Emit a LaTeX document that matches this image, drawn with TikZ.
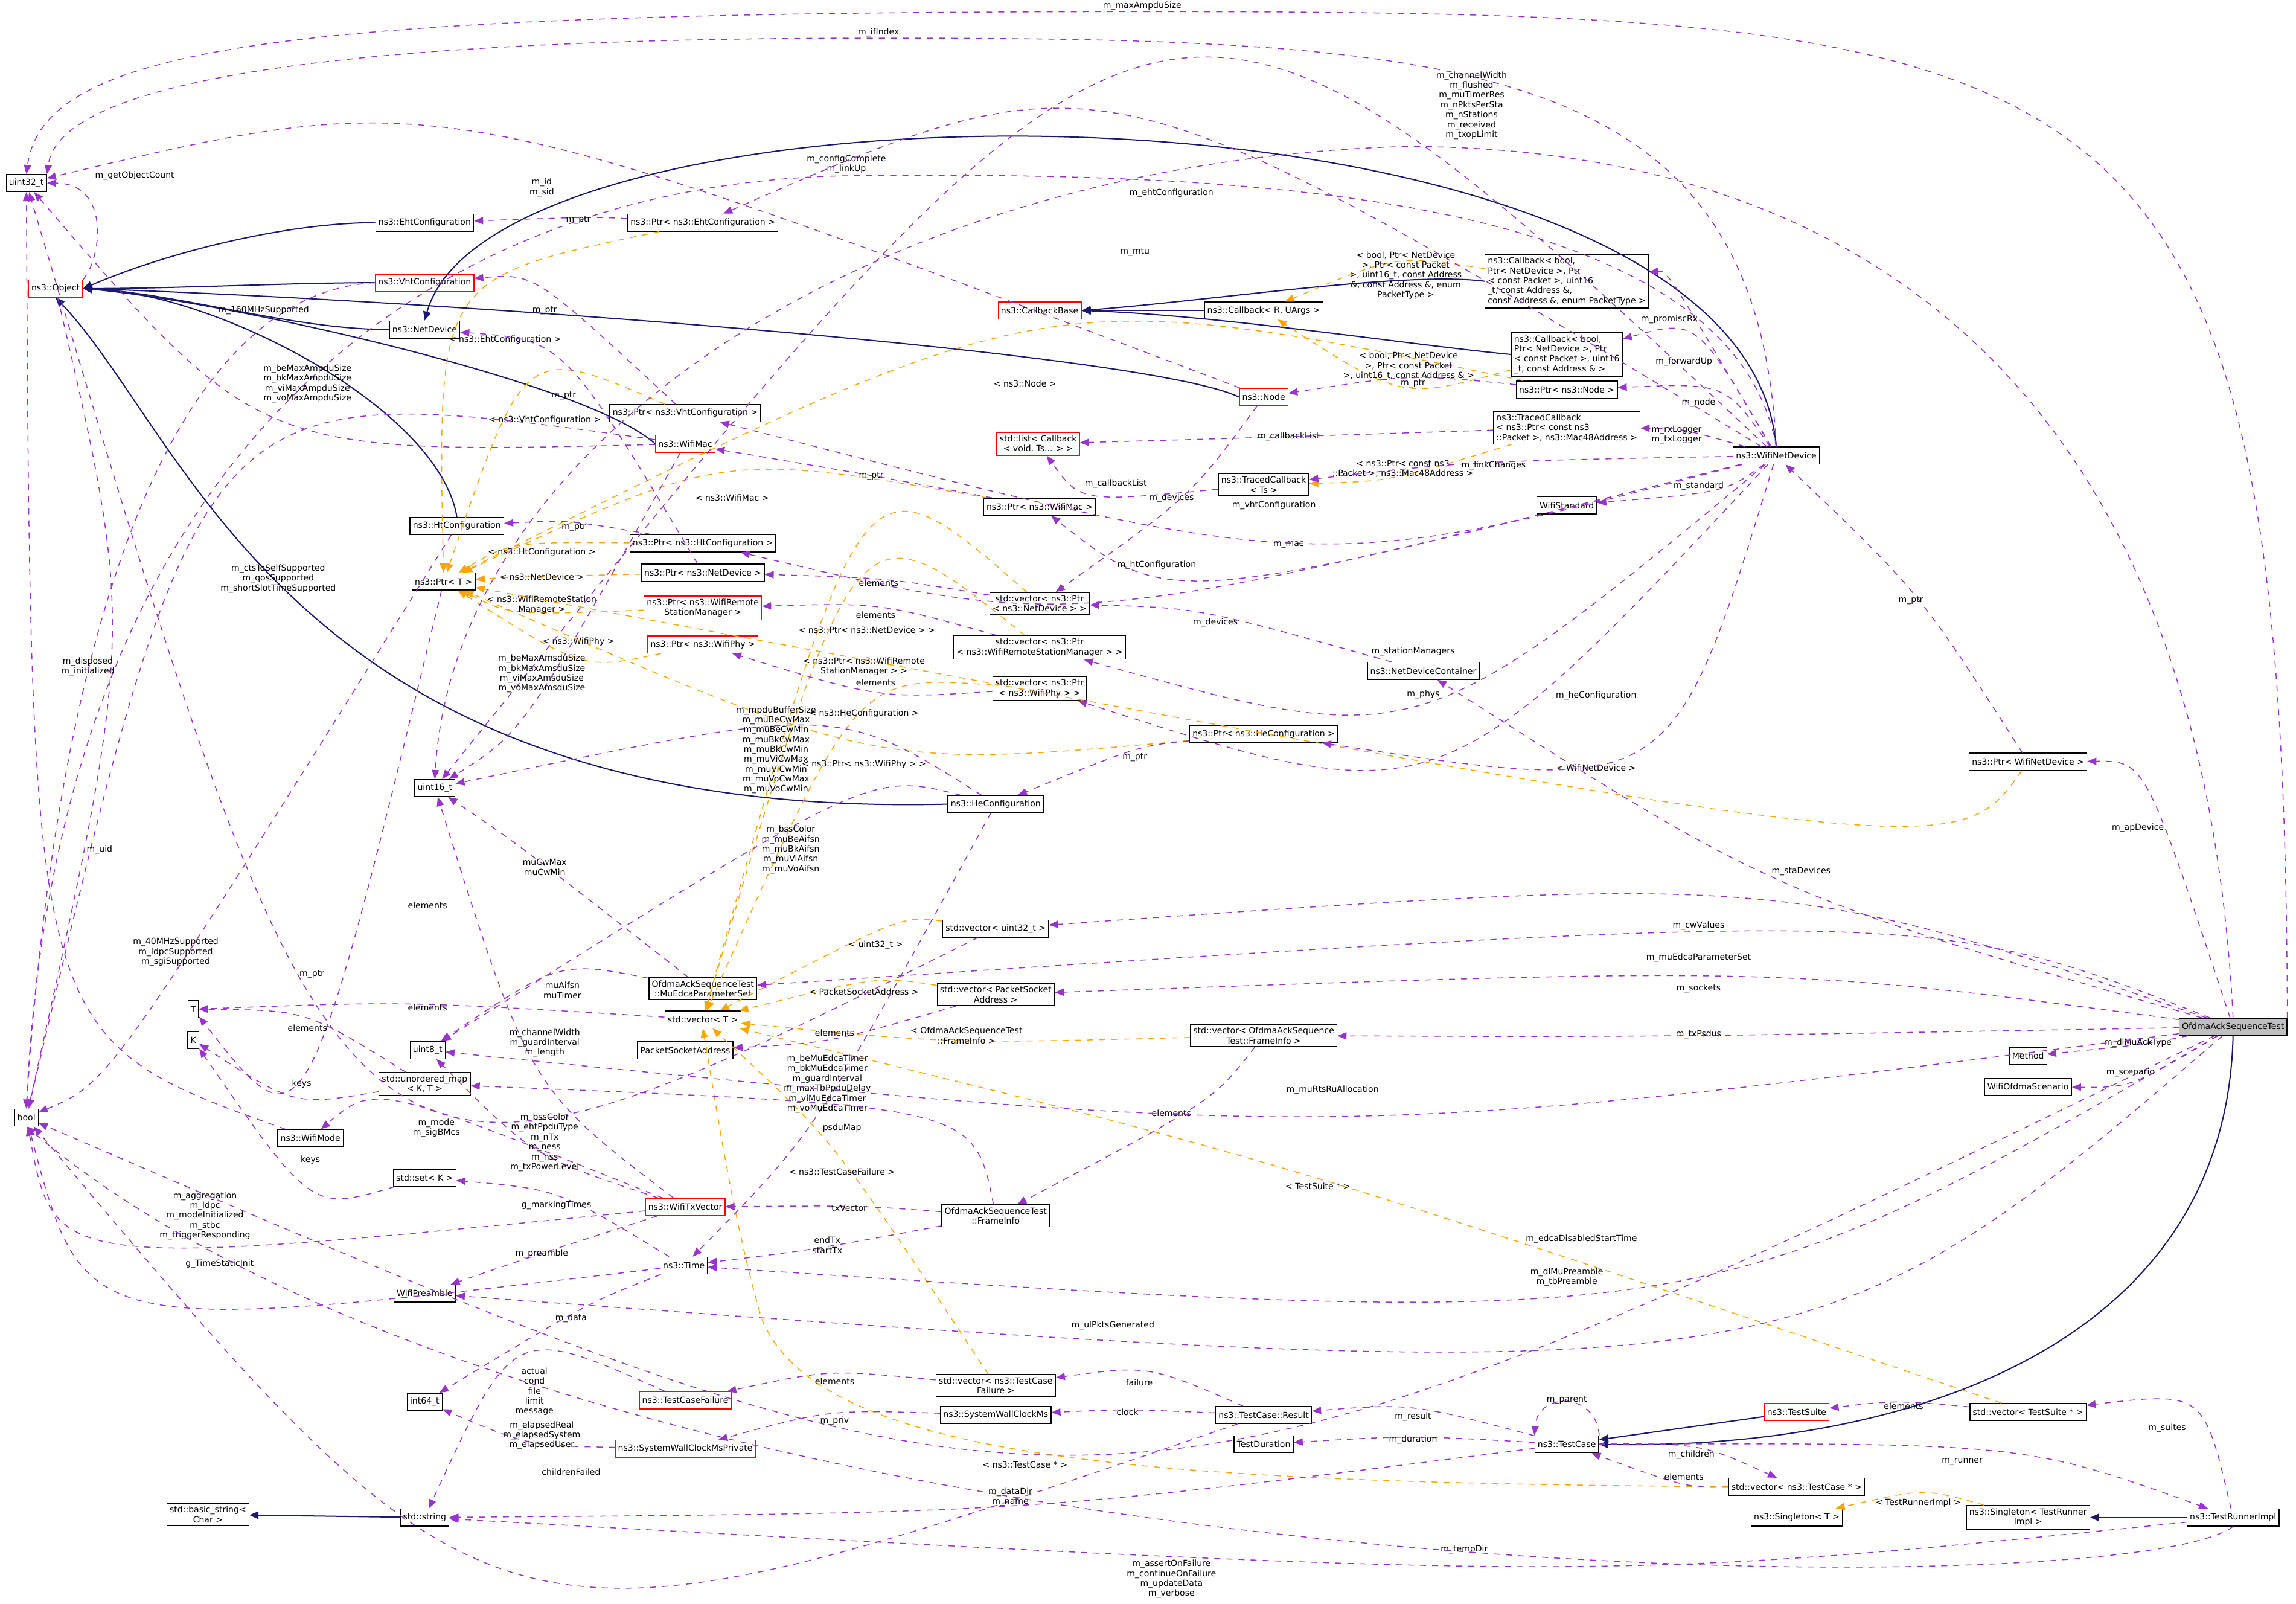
\documentclass[tikz,border=0pt]{standalone}
\usepackage{fontspec}
\newfontfamily\dxfont{DejaVu Sans}
\usepackage{tikz}
\usetikzlibrary{arrows.meta, calc}
\definecolor{usecol}{HTML}{9A32CD}
\definecolor{tplcol}{HTML}{FFA500}
\definecolor{inhcol}{HTML}{191970}
\tikzset{
  cls/.style={draw=black, fill=white, font=\dxfont\fontsize{4.2}{4.9}\selectfont, align=center, inner sep=1.4pt, minimum height=8.5},
  redcls/.style={cls, draw=red},
  maincls/.style={cls, fill=black!25},
  lbl/.style={font=\dxfont\fontsize{4.2}{4.9}\selectfont, align=center, inner sep=0.3pt, text=black},
  use/.style={draw=usecol, dashed, line width=0.45pt, -{Triangle[length=4.5pt,width=3.6pt]}},
  tpl/.style={draw=tplcol, dashed, line width=0.45pt, -{Triangle[length=4.5pt,width=3.6pt]}},
  inh/.style={draw=inhcol, line width=0.6pt, -{Triangle[length=4.5pt,width=3.8pt]}}
}
% curved link through a given label point
\newcommand{\lnk}[5]{%
  \draw[#1] (#2) .. controls ($2*(#4)-0.5*(#2)-0.5*(#3)$) .. (#3) node[lbl] at (#4) {#5};}

\begin{document}
\begin{tikzpicture}[x=0.02551cm, y=-0.02551cm]
  \useasboundingbox[fill=white] (0,0) rectangle (1568,1095);

  % --- left column ---
  \node[cls] (u32) at (18,125) {uint32\_t};
  \node[redcls] (obj) at (38,197) {ns3::Object};
  \node[cls] (bool) at (18,763) {bool};
  \node[cls] (tT) at (132,689) {T};
  \node[cls] (tK) at (132,710) {K};
  \node[cls] (wmode) at (212,777) {ns3::WifiMode};
  \node[cls] (bstr) at (142,1034) {std::basic\_string<\\Char >};

  % --- second column ---
  \node[cls] (ehtc) at (290,152) {ns3::EhtConfiguration};
  \node[redcls] (vhtc) at (290,193) {ns3::VhtConfiguration};
  \node[cls] (netdev) at (290,225) {ns3::NetDevice};
  \node[cls] (htc) at (312,359) {ns3::HtConfiguration};
  \node[cls] (ptrT) at (303,397) {ns3::Ptr< T >};
  \node[cls] (u16) at (297,538) {uint16\_t};
  \node[cls] (u8) at (292,717) {uint8\_t};
  \node[cls] (umap) at (290,740) {std::unordered\_map\\< K, T >};
  \node[cls] (setK) at (290,804) {std::set< K >};
  \node[cls] (wpre) at (290,883) {WifiPreamble};
  \node[cls] (i64) at (290,957) {int64\_t};
  \node[cls] (str) at (290,1036) {std::string};

  % --- third column ---
  \node[cls] (pehtc) at (480,152) {ns3::Ptr< ns3::EhtConfiguration >};
  \node[cls] (pvhtc) at (468,282) {ns3::Ptr< ns3::VhtConfiguration >};
  \node[redcls] (wmac) at (468,303) {ns3::WifiMac};
  \node[cls] (phtc) at (480,371) {ns3::Ptr< ns3::HtConfiguration >};
  \node[cls] (pnd) at (480,391) {ns3::Ptr< ns3::NetDevice >};
  \node[redcls] (pwrsm) at (480,415) {ns3::Ptr< ns3::WifiRemote\\StationManager >};
  \node[redcls] (pphy) at (480,440) {ns3::Ptr< ns3::WifiPhy >};
  \node[cls] (muset) at (480,675) {OfdmaAckSequenceTest\\::MuEdcaParameterSet};
  \node[cls] (vecT) at (480,696) {std::vector< T >};
  \node[cls] (psa) at (468,717) {PacketSocketAddress};
  \node[redcls] (txv) at (468,824) {ns3::WifiTxVector};
  \node[cls] (time) at (467,864) {ns3::Time};
  \node[redcls] (tcf) at (468,956) {ns3::TestCaseFailure};
  \node[redcls] (swcp) at (468,989) {ns3::SystemWallClockMsPrivate};

  % --- fourth column ---
  \node[redcls] (cbb) at (710,212) {ns3::CallbackBase};
  \node[redcls] (cblist) at (709,303) {std::list< Callback\\< void, Ts... > >};
  \node[cls] (pwmac) at (710,346) {ns3::Ptr< ns3::WifiMac >};
  \node[cls] (vpnd) at (710,412) {std::vector< ns3::Ptr\\< ns3::NetDevice > >};
  \node[cls] (vpwrsm) at (710,442) {std::vector< ns3::Ptr\\< ns3::WifiRemoteStationManager > >};
  \node[cls] (vpphy) at (710,470) {std::vector< ns3::Ptr\\< ns3::WifiPhy > >};
  \node[cls] (hec) at (680,549) {ns3::HeConfiguration};
  \node[cls] (vu32) at (680,634) {std::vector< uint32\_t >};
  \node[cls] (vpsa) at (680,679) {std::vector< PacketSocket\\Address >};
  \node[cls] (finfo) at (680,830) {OfdmaAckSequenceTest\\::FrameInfo};
  \node[cls] (vtcf) at (680,946) {std::vector< ns3::TestCase\\Failure >};
  \node[cls] (swc) at (680,966) {ns3::SystemWallClockMs};

  % --- fifth column ---
  \node[cls] (cbR) at (863,212) {ns3::Callback< R, UArgs >};
  \node[redcls] (node) at (863,271) {ns3::Node};
  \node[cls] (tcTs) at (863,331) {ns3::TracedCallback\\< Ts >};
  \node[cls] (ndc) at (972,458) {ns3::NetDeviceContainer};
  \node[cls] (phec) at (863,501) {ns3::Ptr< ns3::HeConfiguration >};
  \node[cls] (vfinfo) at (863,707) {std::vector< OfdmaAckSequence\\Test::FrameInfo >};
  \node[cls] (tres) at (863,966) {ns3::TestCase::Result};
  \node[cls] (tdur) at (863,986) {TestDuration};

  % --- sixth column ---
  \node[cls, align=left] (cb1) at (1070,192) {ns3::Callback< bool,\\ Ptr< NetDevice >, Ptr\\< const Packet >, uint16\\\_t, const Address \&,\\ const Address \&, enum PacketType >};
  \node[cls, align=left] (cb2) at (1070,242) {ns3::Callback< bool,\\ Ptr< NetDevice >, Ptr\\< const Packet >, uint16\\\_t, const Address \& >};
  \node[cls] (pnode) at (1070,266) {ns3::Ptr< ns3::Node >};
  \node[cls, align=left] (tcpk) at (1070,292) {ns3::TracedCallback\\< ns3::Ptr< const ns3\\::Packet >, ns3::Mac48Address >};
  \node[cls] (wstd) at (1070,345) {WifiStandard};
  \node[cls] (tc) at (1070,986) {ns3::TestCase};
  \node[cls] (wnd) at (1213,311) {ns3::WifiNetDevice};
  \node[redcls] (tsuite) at (1227,964) {ns3::TestSuite};
  \node[cls] (vptc) at (1227,1015) {std::vector< ns3::TestCase * >};
  \node[cls] (sglT) at (1227,1036) {ns3::Singleton< T >};

  % --- right columns ---
  \node[cls] (pwnd) at (1385,520) {ns3::Ptr< WifiNetDevice >};
  \node[cls] (method) at (1385,721) {Method};
  \node[cls] (scen) at (1385,742) {WifiOfdmaScenario};
  \node[cls] (vts) at (1385,964) {std::vector< TestSuite * >};
  \node[cls] (sglR) at (1385,1036) {ns3::Singleton< TestRunner\\Impl >};
  \node[maincls] (oat) at (1525,701) {OfdmaAckSequenceTest};
  \node[cls] (tri) at (1525,1036) {ns3::TestRunnerImpl};

  % --- inheritance ---
  \draw[inh] (ehtc.west) .. controls (200,152) and (120,170) .. (obj.east);
  \draw[inh] (vhtc.west) .. controls (200,193) and (120,197) .. (obj.east);
  \draw[inh] (netdev.west) .. controls (200,225) and (120,200) .. (obj.east);
  \draw[inh] (htc.north) .. controls (300,280) and (150,200) .. (obj.east);
  \draw[inh] (wmac.west) .. controls (400,260) and (150,205) .. (obj.east);
  \draw[inh] (node.west) .. controls (780,240) and (300,205) .. (obj.east);
  \draw[inh] (hec.west) .. controls (200,560) and (130,300) .. (obj.south);
  \draw[inh] (wnd.north) .. controls (1190,40) and (340,40) .. (netdev.north);
  \draw[inh] (cbR) -- (cbb);
  \draw[inh] (cb1.west) .. controls (960,185) and (830,205) .. (cbb.east);
  \draw[inh] (cb2.west) .. controls (960,235) and (830,215) .. (cbb.east);
  \draw[inh] (oat.south) .. controls (1520,920) and (1300,990) .. (tc.east);
  \draw[inh] (tsuite) -- (tc);
  \draw[inh] (str) -- (bstr);
  \draw[inh] (tri) -- (sglR);

  % --- template instances ---
  \lnk{tpl}{pehtc}{ptrT}{345,232}{< ns3::EhtConfiguration >}
  \lnk{tpl}{pnode}{ptrT}{700,262}{< ns3::Node >}
  \lnk{tpl}{pvhtc}{ptrT}{372,287}{< ns3::VhtConfiguration >}
  \lnk{tpl}{pwmac}{ptrT}{500,340}{< ns3::WifiMac >}
  \lnk{tpl}{phtc}{ptrT}{370,377}{< ns3::HtConfiguration >}
  \lnk{tpl}{pnd}{ptrT}{370,394}{< ns3::NetDevice >}
  \lnk{tpl}{pwrsm}{ptrT}{370,413}{< ns3::WifiRemoteStation\\Manager >}
  \lnk{tpl}{pphy}{ptrT}{395,438}{< ns3::WifiPhy >}
  \lnk{tpl}{phec}{ptrT}{590,487}{< ns3::HeConfiguration >}
  \lnk{tpl}{pwnd}{ptrT}{1090,524}{< WifiNetDevice >}
  \lnk{tpl}{cb1}{cbR}{960,188}{< bool, Ptr< NetDevice\\>, Ptr< const Packet\\>, uint16\_t, const Address\\\&, const Address \&, enum\\ PacketType >}
  \lnk{tpl}{cb2}{cbR}{962,250}{< bool, Ptr< NetDevice\\>, Ptr< const Packet\\>, uint16\_t, const Address \& >}
  \lnk{tpl}{tcpk}{tcTs}{958,320}{< ns3::Ptr< const ns3\\::Packet >, ns3::Mac48Address >}
  \lnk{tpl}{vpnd}{vecT}{592,430}{< ns3::Ptr< ns3::NetDevice > >}
  \lnk{tpl}{vpwrsm}{vecT}{590,455}{< ns3::Ptr< ns3::WifiRemote\\StationManager > >}
  \lnk{tpl}{vpphy}{vecT}{590,522}{< ns3::Ptr< ns3::WifiPhy > >}
  \lnk{tpl}{vu32}{vecT}{598,645}{< uint32\_t >}
  \lnk{tpl}{vpsa}{vecT}{590,677}{< PacketSocketAddress >}
  \lnk{tpl}{vfinfo}{vecT}{660,707}{< OfdmaAckSequenceTest\\::FrameInfo >}
  \lnk{tpl}{vtcf}{vecT}{575,800}{< ns3::TestCaseFailure >}
  \lnk{tpl}{vts}{vecT}{900,810}{< TestSuite * >}
  \draw[tpl] (vptc.west) .. controls (800,1012) and (560,1000) .. (520,900)
    .. controls (500,830) and (490,760) .. (vecT.south) node[lbl] at (700,1000) {< ns3::TestCase * >};
  \lnk{tpl}{sglR}{sglT}{1310,1026}{< TestRunnerImpl >}

  % --- members: long top routes ---
  \draw[use] (oat.north east) .. controls (1560,30) and (1450,8) .. (780,8)
    .. controls (200,8) and (30,30) .. (u32.north) node[lbl] at (780,4) {m\_maxAmpduSize};
  \draw[use] (wnd.north) .. controls (1200,40) and (1000,26) .. (600,26)
    .. controls (200,26) and (40,60) .. (u32.north east) node[lbl] at (600,22) {m\_ifIndex};
  \draw[use] (oat.north) .. controls (1500,200) and (1200,100) .. (960,100)
    .. controls (600,110) and (310,300) .. (u16.north) node[lbl] at (1005,72) {m\_channelWidth\\m\_flushed\\m\_muTimerRes\\m\_nPktsPerSta\\m\_nStations\\m\_received\\m\_txopLimit};
  \draw[use] (wnd.north) .. controls (1180,120) and (800,118) .. (578,120)
    .. controls (300,125) and (40,300) .. (bool.north) node[lbl] at (578,112) {m\_configComplete\\m\_linkUp};
  \lnk{use}{node}{u32}{370,128}{m\_id\\m\_sid}
  \draw[use] (obj.north east) .. controls (70,175) and (75,125) .. (u32.east) node[lbl] at (92,120) {m\_getObjectCount};

  % --- members of WifiNetDevice ---
  \lnk{use}{wnd}{pehtc}{800,132}{m\_ehtConfiguration}
  \lnk{use}{wnd}{u16}{775,172}{m\_mtu}
  \lnk{use}{wnd}{cb1}{1140,218}{m\_promiscRx}
  \lnk{use}{wnd}{cb2}{1150,247}{m\_forwardUp}
  \lnk{use}{wnd}{pnode}{1160,275}{m\_node}
  \lnk{use}{wnd}{tcpk}{1145,297}{m\_rxLogger\\m\_txLogger}
  \lnk{use}{wnd}{tcTs}{1020,318}{m\_linkChanges}
  \lnk{use}{wnd}{wstd}{1160,332}{m\_standard}
  \lnk{use}{wnd}{pvhtc}{870,345}{m\_vhtConfiguration}
  \lnk{use}{wnd}{pwmac}{880,372}{m\_mac}
  \lnk{use}{wnd}{phtc}{790,386}{m\_htConfiguration}
  \lnk{use}{wnd}{vpwrsm}{965,445}{m\_stationManagers}
  \lnk{use}{wnd}{vpphy}{972,474}{m\_phys}
  \lnk{use}{wnd}{phec}{1090,475}{m\_heConfiguration}

  % --- Ptr targets ---
  \lnk{use}{pehtc}{ehtc}{395,150}{m\_ptr}
  \lnk{use}{pvhtc}{vhtc}{372,212}{m\_ptr}
  \lnk{use}{pwmac}{wmac}{595,325}{m\_ptr}
  \lnk{use}{phtc}{htc}{392,360}{m\_ptr}
  \lnk{use}{pnd}{netdev}{385,270}{m\_ptr}
  \lnk{use}{pnode}{node}{965,262}{m\_ptr}
  \lnk{use}{phec}{hec}{775,517}{m\_ptr}
  \lnk{use}{pwnd}{wnd}{1305,410}{m\_ptr}
  \lnk{use}{ptrT}{tT}{213,665}{m\_ptr}

  % --- other members ---
  \lnk{use}{obj}{bool}{60,455}{m\_disposed\\m\_initialized}
  \draw[use] (vhtc.west) .. controls (120,200) and (40,420) .. (bool.north) node[lbl] at (180,212) {m\_160MHzSupported};
  \lnk{use}{htc}{bool}{120,650}{m\_40MHzSupported\\m\_ldpcSupported\\m\_sgiSupported}
  \lnk{use}{wmac}{u32}{210,262}{m\_beMaxAmpduSize\\m\_bkMaxAmpduSize\\m\_viMaxAmpduSize\\m\_voMaxAmpduSize}
  \lnk{use}{wmac}{u16}{370,460}{m\_beMaxAmsduSize\\m\_bkMaxAmsduSize\\m\_viMaxAmsduSize\\m\_voMaxAmsduSize}
  \lnk{use}{wmac}{bool}{190,395}{m\_ctsToSelfSupported\\m\_qosSupported\\m\_shortSlotTimeSupported}
  \lnk{use}{node}{vpnd}{800,340}{m\_devices}
  \lnk{use}{tcTs}{cblist}{762,330}{m\_callbackList}
  \lnk{use}{tcpk}{cblist}{880,298}{m\_callbackList}
  \lnk{use}{vpnd}{pnd}{600,398}{elements}
  \lnk{use}{vpwrsm}{pwrsm}{598,420}{elements}
  \lnk{use}{vpphy}{pphy}{598,466}{elements}
  \lnk{use}{ndc}{vpnd}{830,425}{m\_devices}
  \lnk{use}{hec}{u16}{530,512}{m\_mpduBufferSize\\m\_muBeCwMax\\m\_muBeCwMin\\m\_muBkCwMax\\m\_muBkCwMin\\m\_muViCwMax\\m\_muViCwMin\\m\_muVoCwMax\\m\_muVoCwMin}
  \lnk{use}{hec}{u8}{540,580}{m\_bssColor\\m\_muBeAifsn\\m\_muBkAifsn\\m\_muViAifsn\\m\_muVoAifsn}
  \lnk{use}{hec}{time}{565,740}{m\_beMuEdcaTimer\\m\_bkMuEdcaTimer\\m\_guardInterval\\m\_maxTbPpduDelay\\m\_viMuEdcaTimer\\m\_voMuEdcaTimer}
  \lnk{use}{muset}{u16}{372,592}{muCwMax\\muCwMin}
  \lnk{use}{muset}{u8}{384,676}{muAifsn\\muTimer}
  \lnk{use}{vecT}{tT}{292,688}{elements}
  \lnk{use}{vu32}{u32}{292,618}{elements}
  \lnk{use}{umap}{tT}{210,702}{elements}
  \lnk{use}{umap}{tK}{206,740}{keys}
  \lnk{use}{setK}{tK}{212,792}{keys}
  \lnk{use}{wmode}{u32}{68,580}{m\_uid}
  \lnk{use}{txv}{u16}{372,712}{m\_channelWidth\\m\_guardInterval\\m\_length}
  \lnk{use}{txv}{u8}{372,780}{m\_bssColor\\m\_ehtPpduType\\m\_nTx\\m\_ness\\m\_nss\\m\_txPowerLevel}
  \lnk{use}{txv}{wmode}{298,770}{m\_mode\\m\_sigBMcs}
  \lnk{use}{txv}{bool}{140,830}{m\_aggregation\\m\_ldpc\\m\_modeInitialized\\m\_stbc\\m\_triggerResponding}
  \lnk{use}{txv}{wpre}{370,856}{m\_preamble}
  \lnk{use}{time}{setK}{380,823}{g\_markingTimes}
  \lnk{use}{time}{bool}{150,863}{g\_TimeStaticInit}
  \lnk{use}{time}{i64}{390,900}{m\_data}
  \lnk{use}{finfo}{txv}{580,825}{txVector}
  \lnk{use}{finfo}{umap}{575,770}{psduMap}
  \lnk{use}{finfo}{time}{565,850}{endTx\\startTx}
  \lnk{use}{vfinfo}{finfo}{800,760}{elements}
  \lnk{use}{vpsa}{psa}{570,705}{elements}

  % --- members of OfdmaAckSequenceTest ---
  \lnk{use}{oat}{pwnd}{1460,565}{m\_apDevice}
  \lnk{use}{oat}{ndc}{1230,595}{m\_staDevices}
  \lnk{use}{oat}{vu32}{1160,632}{m\_cwValues}
  \lnk{use}{oat}{muset}{1160,654}{m\_muEdcaParameterSet}
  \lnk{use}{oat}{vpsa}{1160,675}{m\_sockets}
  \lnk{use}{oat}{vfinfo}{1160,706}{m\_txPsdus}
  \lnk{use}{oat}{method}{1460,712}{m\_dlMuAckType}
  \lnk{use}{oat}{scen}{1455,732}{m\_scenario}
  \lnk{use}{oat}{u8}{910,744}{m\_muRtsRuAllocation}
  \lnk{use}{oat}{time}{1080,846}{m\_edcaDisabledStartTime}
  \lnk{use}{oat}{wpre}{1070,872}{m\_dlMuPreamble\\m\_tbPreamble}
  \lnk{use}{oat}{bool}{760,905}{m\_ulPktsGenerated}

  % --- test framework ---
  \lnk{use}{tcf}{str}{365,950}{actual\\cond\\file\\limit\\message}
  \lnk{use}{swcp}{i64}{370,980}{m\_elapsedReal\\m\_elapsedSystem\\m\_elapsedUser}
  \lnk{use}{swc}{swcp}{570,970}{m\_priv}
  \lnk{use}{vtcf}{tcf}{570,943}{elements}
  \lnk{use}{tres}{vtcf}{778,944}{failure}
  \lnk{use}{tres}{swc}{770,964}{clock}
  \lnk{use}{tres}{bool}{390,1005}{childrenFailed}
  \lnk{use}{tc}{tres}{965,967}{m\_result}
  \lnk{use}{tc}{tdur}{965,983}{m\_duration}
  \draw[use] (tc.north east) .. controls (1090,950) and (1050,950) .. (tc.north west) node[lbl] at (1070,956) {m\_parent};
  \lnk{use}{tc}{str}{690,1022}{m\_dataDir\\m\_name}
  \lnk{use}{vptc}{tc}{1150,1008}{elements}
  \lnk{use}{tc}{vptc}{1155,993}{m\_children}
  \lnk{use}{tc}{tri}{1340,998}{m\_runner}
  \lnk{use}{vts}{tsuite}{1300,960}{elements}
  \lnk{use}{tri}{vts}{1480,975}{m\_suites}
  \lnk{use}{tri}{str}{1000,1058}{m\_tempDir}
  \draw[use] (tri.south) .. controls (1450,1100) and (400,1092) .. (bool.south) node[lbl] at (800,1078) {m\_assertOnFailure\\m\_continueOnFailure\\m\_updateData\\m\_verbose};
\end{tikzpicture}
\end{document}
